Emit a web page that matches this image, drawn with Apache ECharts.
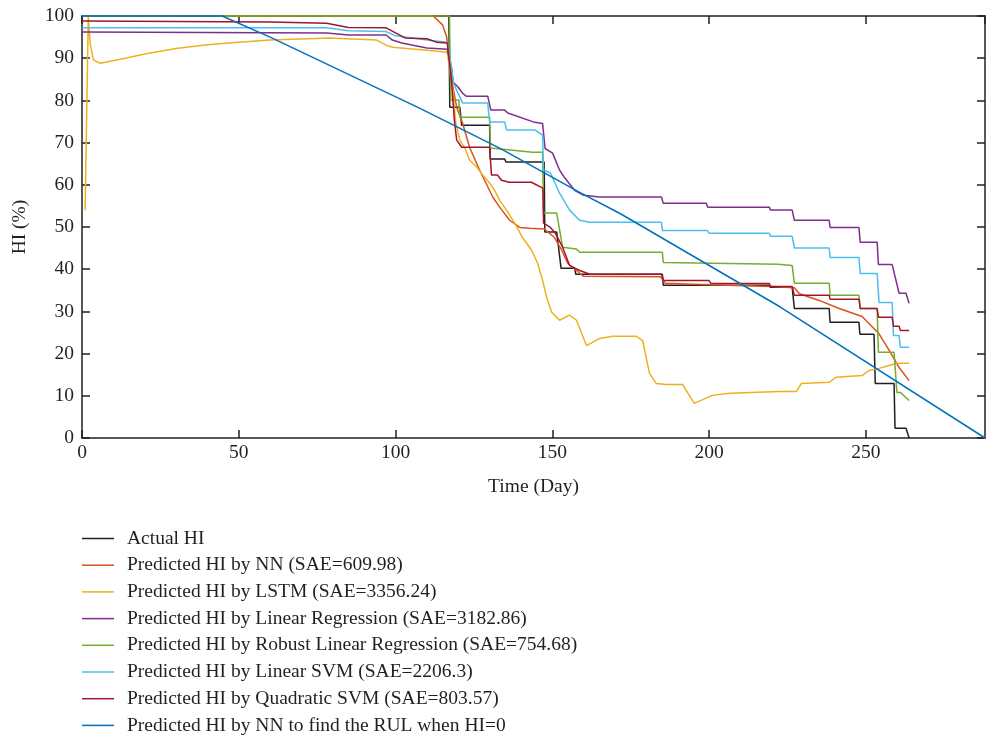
<!DOCTYPE html>
<html>
<head>
<meta charset="utf-8">
<script src="https://cdn.jsdelivr.net/npm/echarts@6/dist/echarts.min.js"></script>
<style>
  html, body { margin: 0; padding: 0; background: #fff; }
  #chart { width: 988px; height: 742px; }
</style>
</head>
<body>
<div id="chart"></div>
<script>
// [day, HI %]
const actualHI = [[0,100],[117,100],[117.3,78.4],[120.5,78.4],[121.1,74.1],[130,74.1],[130.2,66.1],[134.8,66.1],[135.2,65.4],[147.4,65.4],[147.6,48.8],[151.4,48.8],[152.8,40.2],[157.1,40.2],[157.5,38.8],[185.1,38.8],[185.4,36.2],[219.2,36.2],[219.5,35.7],[226.5,35.7],[227.2,30.7],[238.3,30.7],[238.6,27.4],[247.8,27.4],[248.1,24.6],[252.6,24.6],[253,12.9],[259,12.9],[259.3,2.3],[262.8,2.3],[263.8,0]];
const nnHI = [[0,100],[112,100],[115,97.9],[116.3,95],[117.3,89.6],[118.3,83.2],[119.5,78.4],[121.4,74.6],[123.6,68.9],[126.8,63.5],[131,57.1],[133.2,54.7],[136.4,51.6],[139.6,49.9],[142.7,49.7],[147.5,49.5],[150.7,47.5],[153,44.5],[154.9,41.4],[157.7,39.7],[160,38.3],[184.5,38.2],[186,36.7],[200,36.3],[220,35.9],[227.2,35.6],[228.8,34.2],[235.1,32.6],[241.5,30.7],[248.8,28.8],[254.2,24.7],[257.4,20.8],[260.6,16.7],[263.8,13.6]];
const lstmHI = [[1,54],[2,99.8],[2.6,93.5],[3.6,89.6],[5.8,88.8],[13.8,90],[20,91],[30,92.3],[40,93.2],[50,93.8],[60,94.3],[79,94.8],[94,94.3],[97,93.1],[99,92.6],[110,91.9],[116.5,91.4],[117.5,86],[118.3,82.4],[119.2,74.6],[120.5,70.6],[122.1,68.7],[123.6,65.8],[125.9,64.2],[127.8,62.3],[130,60.4],[131.6,58.7],[133.2,56.3],[135.4,54],[138,50.9],[140.5,47.5],[143.4,44.5],[145.3,41.4],[146.9,37.4],[148.2,33.3],[149.8,29.8],[152.3,27.9],[155.5,29.1],[157.7,27.9],[160.9,21.9],[165.1,23.6],[169.2,24.1],[176.8,24.1],[178.8,23.1],[181,15.3],[183.2,12.9],[186.4,12.7],[191.5,12.7],[195.3,8.2],[201,10.1],[206.5,10.6],[222.4,11],[227.8,11],[229.4,12.9],[238.3,13.2],[240.5,14.4],[248.8,14.8],[251,16],[254.2,16.5],[257.4,17.2],[259.7,17.7],[263.8,17.7]];
const linRegHI = [[0,96.2],[78,96],[85,95.5],[97,95.5],[99,94.3],[102,93.6],[110,92.4],[116.5,92.1],[117.8,88],[118.4,84.3],[120,83.1],[121.4,81.7],[122.5,81],[129.4,81],[130.4,77.7],[134.8,77.7],[135.8,77],[144.4,74.8],[146.9,74.5],[147.7,68.6],[150.1,67.5],[152.3,63.5],[154,61.6],[157.1,58.7],[160,57.5],[165,57.1],[184.8,57.1],[185.4,55.6],[199.1,55.6],[199.6,54.7],[219.2,54.7],[219.6,54],[226.5,54],[227.2,51.6],[238.3,51.6],[238.6,49.9],[247.8,49.9],[248.2,46.4],[253.6,46.4],[254,41.1],[258.4,41.1],[260.6,34.3],[262.8,34.3],[263.8,31.9]];
const robustHI = [[0,100],[117.2,100],[117.6,80.1],[120.2,80.1],[120.5,76],[130,76],[130.3,68.7],[143.7,67.7],[146.9,67.7],[147.2,53.3],[151.4,53.3],[153.3,45.2],[157.7,44.8],[158.7,44],[185.1,44],[185.4,41.6],[222,41.2],[226.5,40.9],[227.2,36.7],[238.3,36.7],[238.6,33.8],[247.8,33.8],[248.2,30.7],[253.6,30.7],[254,20.3],[259,20.3],[259.9,10.8],[261,10.8],[263.8,8.9]];
const linSvmHI = [[0,97.2],[78,97.2],[85,96.5],[97,96.3],[100,95.3],[103,95],[110,94.3],[116.5,93.8],[117.8,88],[118.5,84],[119.5,82.4],[121.4,79.4],[129.4,79.4],[130,74.9],[134.8,74.9],[135.4,73],[144.4,73],[146.9,71.8],[147.2,63.5],[149.4,62.8],[152.3,58],[155.5,54],[158.7,51.6],[162,51.1],[184.8,51.1],[185.1,49.2],[199.4,49.2],[200,48.5],[219.2,48.5],[219.6,47.8],[226.5,47.8],[227.2,45],[238.3,45],[238.6,42.8],[247.8,42.8],[248.2,39],[253.6,39],[254.2,32.1],[258.4,32.1],[258.8,24.3],[260.6,24.3],[261,21.5],[263.8,21.5]];
const quadSvmHI = [[0,98.8],[60,98.6],[78,98.3],[85,97.3],[97,97.2],[100,96],[103,94.8],[110,94.6],[113,93.8],[116.5,93.6],[117.8,85],[118.8,75],[119.5,70.6],[121.1,68.9],[130,68.9],[130.6,62.3],[132.5,62.3],[133.8,61.1],[136.2,60.6],[143.3,60.6],[147,59.2],[147.2,50.9],[149.4,49.9],[151,48.5],[153.3,45.2],[155.5,40.9],[158.7,39.7],[162,38.8],[184.8,38.8],[185.5,37.3],[200,37.3],[200.5,36.7],[219.2,36.6],[219.6,35.9],[226.5,35.9],[227.2,33.8],[238.3,33.8],[238.6,32.9],[247.8,32.9],[248.2,30.7],[253.6,30.7],[254,28.6],[258.4,28.6],[258.8,26.5],[260.6,26.5],[261,25.5],[263.8,25.5]];
const rulHI = [[0,100],[44.7,100],[60,95],[107.8,78.1],[133.2,68.7],[158.7,58.2],[171.6,53.2],[222.6,31.1],[288,0]];

const seriesNames = [
  "Actual HI",
  "Predicted HI by NN (SAE=609.98)",
  "Predicted HI by LSTM (SAE=3356.24)",
  "Predicted HI by Linear Regression (SAE=3182.86)",
  "Predicted HI by Robust Linear Regression (SAE=754.68)",
  "Predicted HI by Linear SVM (SAE=2206.3)",
  "Predicted HI by Quadratic SVM (SAE=803.57)",
  "Predicted HI by NN to find the RUL when HI=0"
];
const seriesData = [actualHI, nnHI, lstmHI, linRegHI, robustHI, linSvmHI, quadSvmHI, rulHI];
const seriesColors = ["#231f20", "#D95319", "#EDB120", "#7E2F8E", "#77AC30", "#4DBEEE", "#A2142F", "#0072BD"];

const textColor = "#231f20";
const fontFamily = "'Liberation Serif', 'DejaVu Serif', serif";
const fontSize = 19.5;

const chart = echarts.init(document.getElementById("chart"));

const axisCommon = {
  axisLine: { show: true, onZero: false, lineStyle: { color: textColor, width: 1.5 } },
  axisTick: { show: true, inside: true, length: 8, lineStyle: { color: textColor, width: 1.5 } },
  splitLine: { show: false }
};

chart.setOption({
  animation: false,
  backgroundColor: "#fff",
  grid: { left: 82, right: 3, top: 16, bottom: 304 },
  legend: {
    orient: "vertical",
    left: 82,
    top: 528,
    padding: 0,
    icon: "rect",
    itemWidth: 32,
    itemHeight: 1.5,
    itemGap: 5.7,
    data: seriesNames,
    textStyle: { color: textColor, fontFamily: fontFamily, fontSize: fontSize, lineHeight: 21, padding: [0, 0, 0, 8] }
  },
  xAxis: [
    {
      ...axisCommon,
      type: "value", min: 0, max: 288, interval: 50, position: "bottom",
      name: "Time (Day)", nameLocation: "middle", nameGap: 39,
      nameTextStyle: { color: textColor, fontFamily: fontFamily, fontSize: fontSize },
      axisLabel: { color: textColor, fontFamily: fontFamily, fontSize: fontSize, margin: 5, showMaxLabel: false }
    },
    {
      ...axisCommon,
      type: "value", min: 0, max: 288, interval: 50, position: "top",
      axisLabel: { show: false }
    }
  ],
  yAxis: [
    {
      ...axisCommon,
      type: "value", min: 0, max: 100, interval: 10, position: "left",
      name: "HI (%)", nameLocation: "middle", nameGap: 52, nameRotate: 90,
      nameTextStyle: { color: textColor, fontFamily: fontFamily, fontSize: fontSize },
      axisLabel: { color: textColor, fontFamily: fontFamily, fontSize: fontSize, margin: 8 }
    },
    {
      ...axisCommon,
      type: "value", min: 0, max: 100, interval: 10, position: "right",
      axisLabel: { show: false }
    }
  ],
  series: seriesNames.map((name, i) => ({
    name: name,
    type: "line",
    data: seriesData[i],
    symbol: "none",
    clip: false,
    color: seriesColors[i],
    lineStyle: { width: 1.5, color: seriesColors[i] }
  }))
});
</script>
</body>
</html>
